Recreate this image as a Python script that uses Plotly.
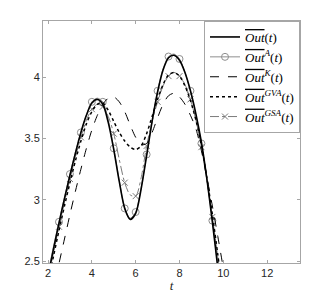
import plotly.graph_objects as go

# time grid (step 0.25)
t = [2.0, 2.25, 2.5, 2.75, 3.0, 3.25, 3.5, 3.75, 4.0, 4.25, 4.5, 4.75, 5.0, 5.25, 5.5, 5.75,
     6.0, 6.25, 6.5, 6.75, 7.0, 7.25, 7.5, 7.75, 8.0, 8.25, 8.5, 8.75, 9.0, 9.25, 9.5, 9.75, 10.0]

out_mean = [2.38, 2.60, 2.81, 3.01, 3.20, 3.38, 3.55, 3.69, 3.79, 3.82, 3.78, 3.63, 3.41, 3.15, 2.93, 2.84,
            2.89, 3.09, 3.36, 3.64, 3.88, 4.06, 4.16, 4.18, 4.14, 4.04, 3.89, 3.70, 3.47, 3.17, 2.82, 2.44, 2.03]
out_a = [2.40, 2.62, 2.82, 3.02, 3.21, 3.39, 3.55, 3.69, 3.80, 3.83, 3.80, 3.65, 3.42, 3.16, 2.93, 2.85,
         2.90, 3.10, 3.37, 3.64, 3.89, 4.07, 4.17, 4.19, 4.15, 4.04, 3.89, 3.69, 3.46, 3.17, 2.83, 2.45, 2.05]
out_k = [2.06, 2.27, 2.48, 2.68, 2.88, 3.07, 3.25, 3.42, 3.57, 3.69, 3.78, 3.83, 3.84, 3.80, 3.72, 3.61,
         3.51, 3.45, 3.46, 3.55, 3.67, 3.78, 3.85, 3.87, 3.84, 3.78, 3.69, 3.58, 3.40, 3.18, 2.95, 2.70, 2.44]
out_gva = [2.32, 2.54, 2.75, 2.95, 3.14, 3.32, 3.48, 3.62, 3.72, 3.78, 3.79, 3.73, 3.64, 3.55, 3.48, 3.43,
           3.41, 3.44, 3.54, 3.68, 3.82, 3.94, 4.02, 4.04, 4.01, 3.93, 3.81, 3.65, 3.44, 3.18, 2.88, 2.55, 2.20]
out_gsa = [2.35, 2.57, 2.78, 2.98, 3.17, 3.35, 3.51, 3.65, 3.74, 3.78, 3.76, 3.68, 3.54, 3.33, 3.14, 3.04,
           3.03, 3.18, 3.44, 3.64, 3.80, 3.93, 4.01, 4.04, 4.01, 3.94, 3.82, 3.65, 3.43, 3.16, 2.86, 2.53, 2.18]

x_ticks = [2, 4, 6, 8, 10, 12]
y_ticks = [2.5, 3, 3.5, 4]
y_tick_labels = ["2.5", "3", "3.5", "4"]

GREY_A = "#8f8f8f"
GREY_GSA = "#7a7a7a"
OUT = "<span style='text-decoration:overline'><i>Out</i></span>"

# markers every 0.5 (every second sample)
t_mark = t[::2]

fig = go.Figure()

series = [
    dict(y=out_mean, name=OUT + "(<i>t</i>)",
         line=dict(color="black", width=1.6), marker=None),
    dict(y=out_a, name=OUT + "<sup><i>A</i></sup>(<i>t</i>)",
         line=dict(color=GREY_A, width=1),
         marker=dict(symbol="circle-open", size=7, color=GREY_A, line=dict(width=1, color=GREY_A))),
    dict(y=out_k, name=OUT + "<sup><i>K</i></sup>(<i>t</i>)",
         line=dict(color="black", width=1, dash="dash"), marker=None),
    dict(y=out_gva, name=OUT + "<sup><i>GVA</i></sup>(<i>t</i>)",
         line=dict(color="black", width=1.5, dash="dot"), marker=None),
    dict(y=out_gsa, name=OUT + "<sup><i>GSA</i></sup>(<i>t</i>)",
         line=dict(color=GREY_GSA, width=1, dash="dashdot"),
         marker=dict(symbol="x-thin-open", size=6, color=GREY_GSA, line=dict(width=1, color=GREY_GSA))),
]

# draw order: grey ones underneath, solid on top
for idx in [1, 4, 2, 3, 0]:
    s = series[idx]
    fig.add_trace(go.Scatter(
        x=t, y=s["y"], mode="lines", showlegend=False, hoverinfo="skip",
        line=dict(shape="spline", smoothing=0.8, **s["line"]),
    ))
    if s["marker"] is not None:
        fig.add_trace(go.Scatter(
            x=t_mark, y=s["y"][::2], mode="markers", showlegend=False,
            marker=s["marker"],
        ))

# legend entries
for s in series:
    fig.add_trace(go.Scatter(
        x=[None], y=[None], name=s["name"],
        mode="lines+markers" if s["marker"] is not None else "lines",
        line=s["line"], marker=s["marker"] if s["marker"] is not None else None,
    ))

axis_common = dict(
    showline=True, linecolor="#a6a6a6", linewidth=1, mirror="ticks",
    ticks="inside", ticklen=3, tickcolor="#a6a6a6",
    showgrid=False, zeroline=False, automargin=False,
    tickfont=dict(family="Liberation Sans, Arial", size=11, color="#262626"),
)

fig.update_layout(
    width=332, height=298,
    margin={"l": 43, "r": 32, "t": 21, "b": 35},
    plot_bgcolor="white", paper_bgcolor="white",
    showlegend=True,
    legend=dict(
        x=1, y=1, xanchor="right", yanchor="top",
        bgcolor="white", bordercolor="#a6a6a6", borderwidth=1,
        font=dict(family="Liberation Serif, DejaVu Serif", size=13, color="black"),
        itemwidth=30, tracegroupgap=0,
    ),
    xaxis=dict(
        range=[1.77, 13.5], tickvals=x_ticks,
        title=dict(text="<i>t</i>", font=dict(family="Liberation Serif", size=13, color="#262626"), standoff=2),
        **axis_common,
    ),
    yaxis=dict(
        range=[2.484, 4.46], tickvals=y_ticks, ticktext=y_tick_labels,
        **axis_common,
    ),
)

fig.write_html("out.html", config={"displayModeBar": False},
               post_script="document.body.style.margin='0';")
